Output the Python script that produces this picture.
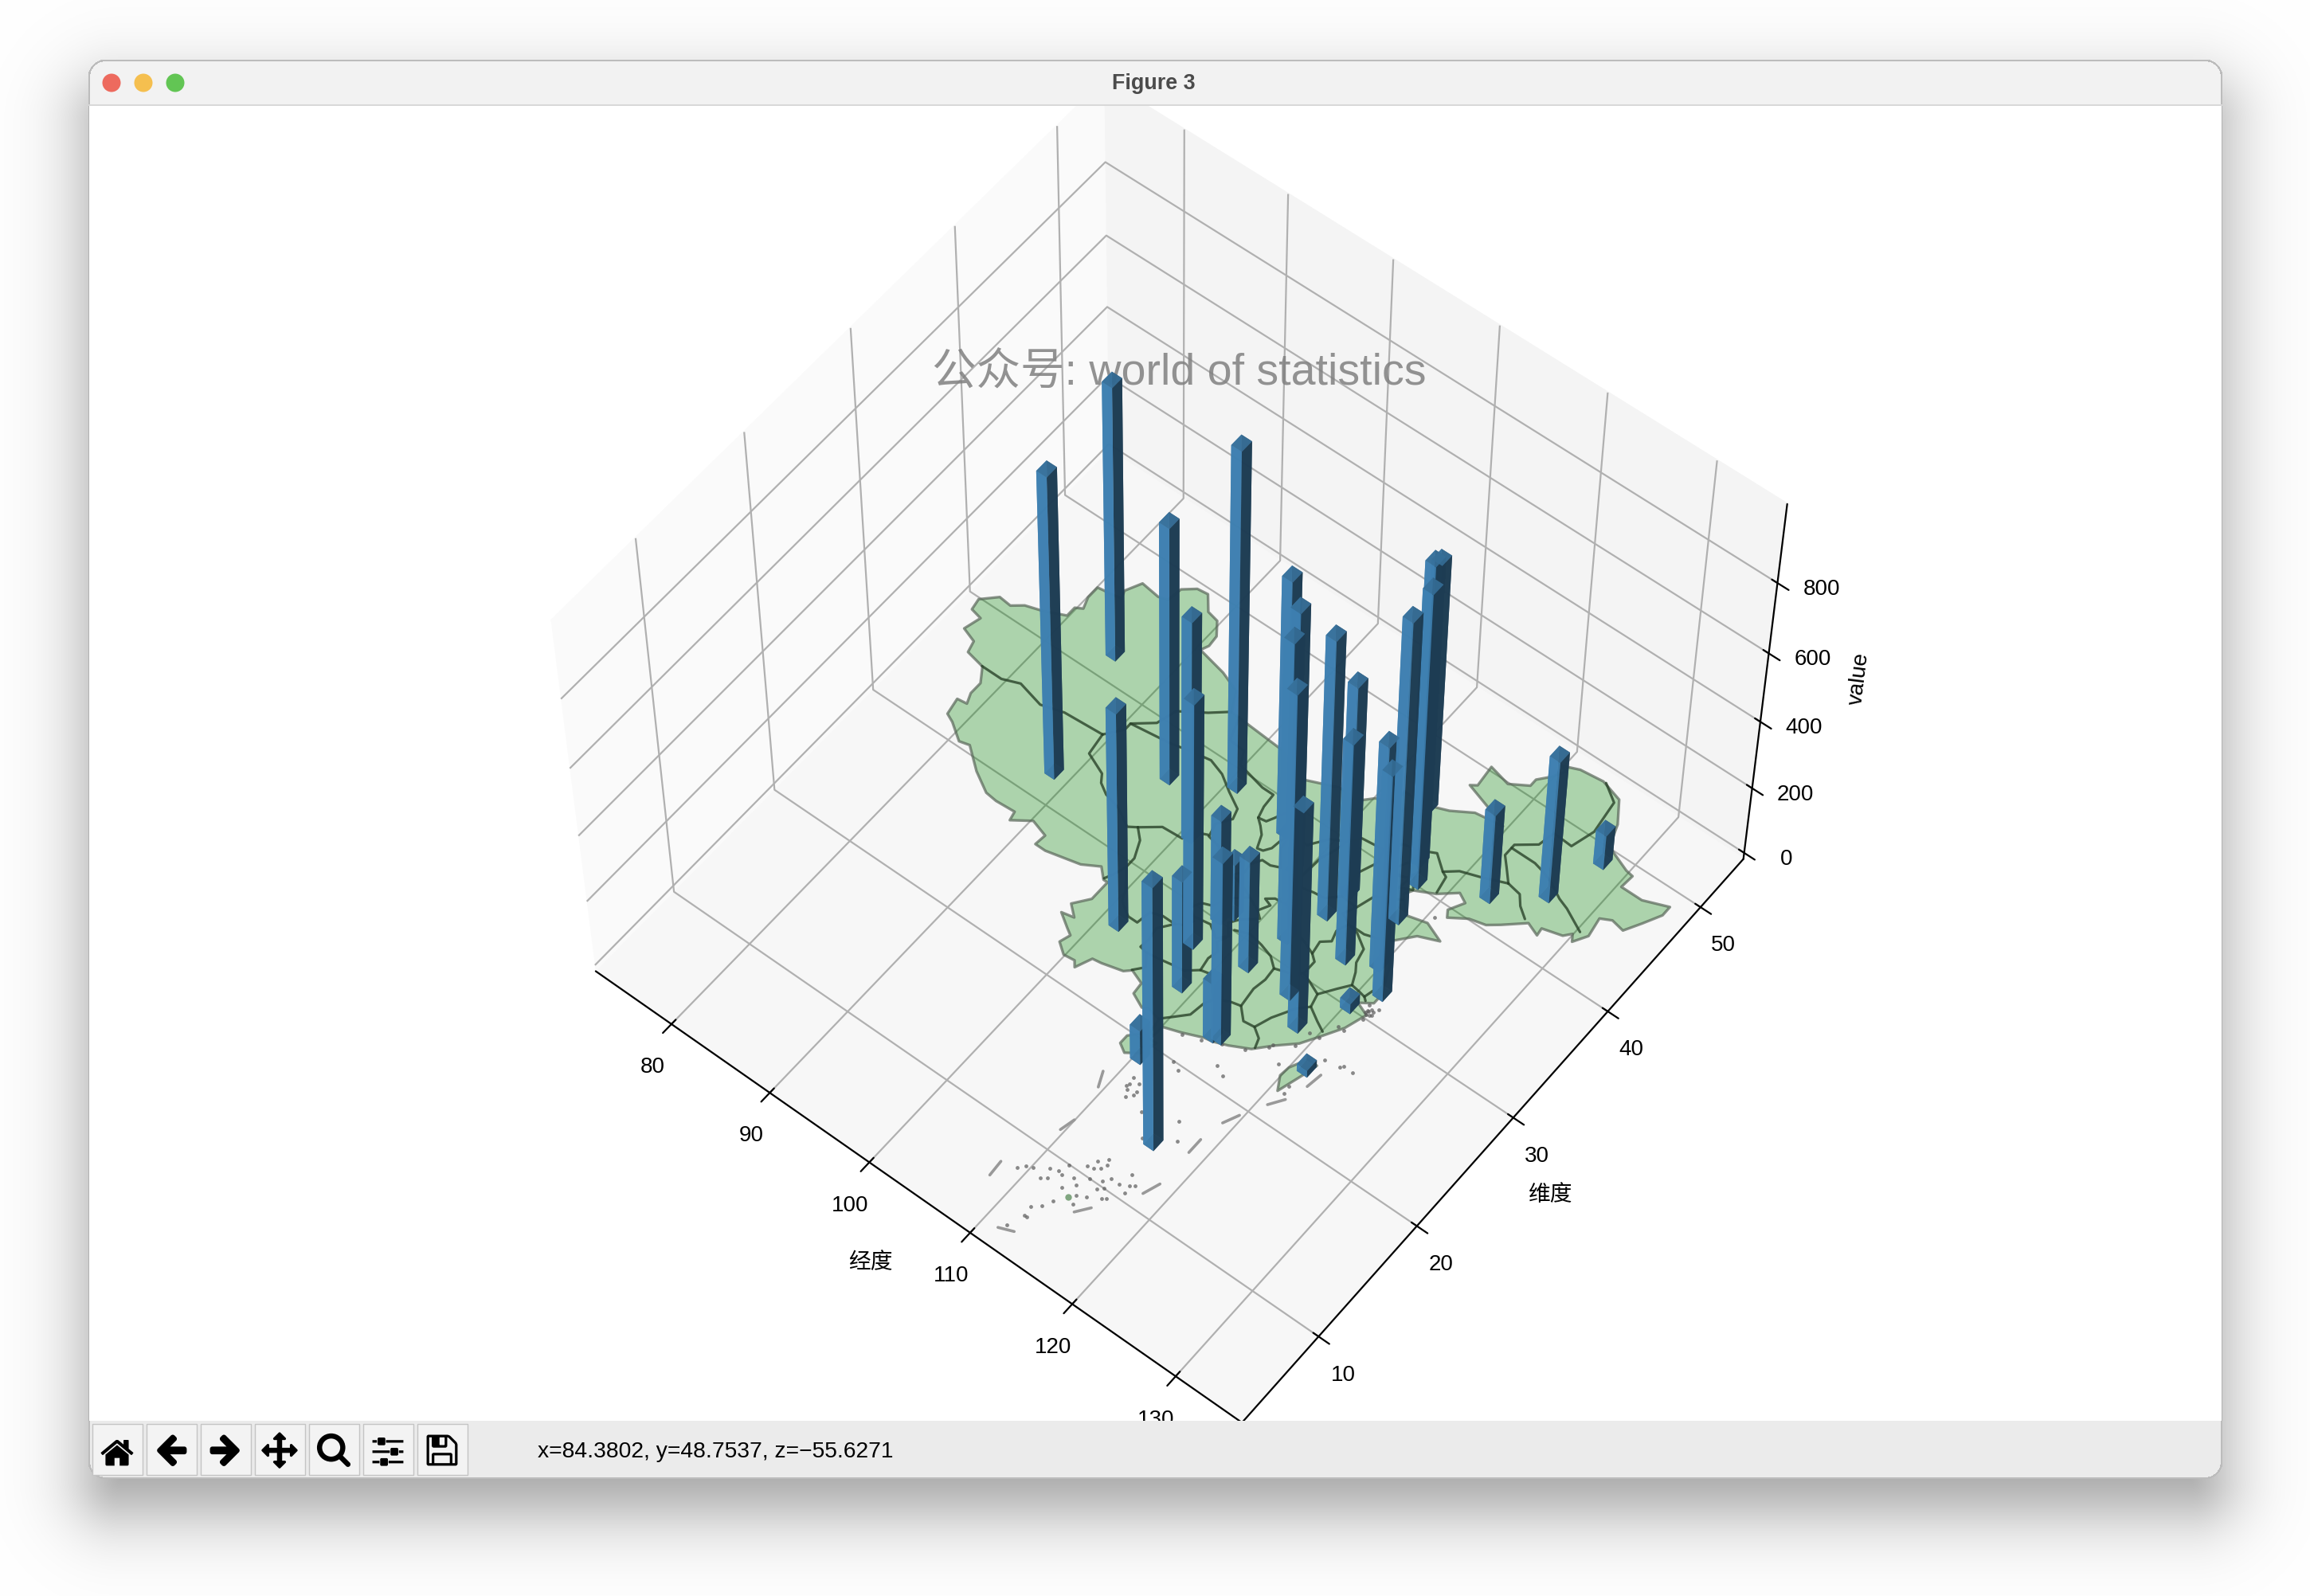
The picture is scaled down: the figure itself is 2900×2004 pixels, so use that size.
import os, numpy as np, matplotlib
matplotlib.use("Agg")
import matplotlib as mpl, matplotlib.pyplot as plt, seaborn as sns
from matplotlib.patches import Rectangle, Circle
from mpl_toolkits.mplot3d.art3d import Poly3DCollection

china_outline=[(73.6,39.5),(74.8,40.5),(76.0,40.4),(76.9,41.0),(78.4,41.4),(80.2,42.1),(80.2,42.9),(80.8,43.2),(80.4,44.1),(80.4,45.1),(82.0,45.3),(82.6,45.4),(82.3,46.0),(83.0,47.2),(84.8,47.0),(85.6,47.2),(85.8,48.4),(86.8,49.1),(87.8,49.2),(88.9,48.1),(90.0,47.9),(90.9,46.9),(91.0,46.0),(90.7,45.4),(93.5,44.9),(95.4,44.3),(96.4,42.8),(100.0,42.6),(101.8,42.5),(103.7,41.9),(105.0,41.6),(107.5,42.5),(109.5,42.5),(110.4,43.3),(111.9,43.7),(111.8,44.9),(113.6,44.8),(115.7,45.5),(117.4,46.4),(119.9,46.7),(118.9,47.0),(115.5,47.9),(116.0,48.2),(115.8,49.9),(117.8,49.5),(119.3,50.3),(119.3,50.9),(120.1,51.7),(120.7,52.6),(120.1,52.8),(121.5,53.3),(123.6,53.5),(125.6,53.0),(126.9,51.4),(127.5,50.0),(127.6,49.7),(130.0,48.9),(130.7,48.8),(130.6,47.7),(132.6,47.7),(134.7,48.4),(134.7,47.6),(133.9,46.3),(133.1,45.1),(131.9,45.3),(131.0,44.9),(131.3,43.4),(130.6,42.4),(130.2,42.9),(129.7,42.4),(128.0,42.0),(128.1,41.4),(126.9,41.8),(125.3,40.6),(124.4,40.0),(123.0,39.7),(121.6,38.9),(121.2,39.4),(121.9,40.5),(121.0,40.9),(119.6,39.9),(118.0,39.2),(117.6,38.6),(118.9,37.4),(120.7,37.8),(122.5,37.2),(120.8,36.6),(119.3,35.1),(120.7,33.9),(121.9,31.7),(121.9,30.9),(120.9,30.3),(122.1,29.9),(121.5,28.3),(120.6,27.0),(119.6,25.6),(118.2,24.5),(117.0,23.4),(115.4,22.7),(114.2,22.3),(113.5,22.2),(111.8,21.6),(110.4,21.2),(110.3,20.3),(109.9,20.4),(109.7,21.5),(108.5,21.7),(108.0,21.5),(106.7,22.0),(106.6,22.9),(105.3,23.3),(104.8,22.9),(103.0,22.5),(102.2,22.4),(101.6,21.2),(101.2,21.6),(100.2,21.5),(99.2,22.1),(99.5,22.9),(98.9,23.2),(97.6,23.9),(98.7,24.1),(97.7,24.8),(98.7,25.9),(98.7,27.5),(98.3,27.5),(97.4,28.2),(96.0,27.5),(93.0,26.9),(92.0,26.9),(92.1,27.8),(90.5,28.2),(89.0,27.3),(88.8,28.0),(87.0,27.9),(85.9,28.0),(84.0,28.9),(82.0,30.2),(81.1,30.0),(79.5,30.9),(78.7,31.2),(78.4,32.5),(79.3,32.6),(78.9,33.4),(78.9,34.4),(78.0,35.5),(76.2,35.8),(75.9,36.7),(74.5,37.1),(74.9,38.4),(73.8,38.6)]
hainan_outline=[(108.7,19.3),(109.5,20.0),(110.9,20.0),(110.5,18.8),(109.5,18.2),(108.7,18.6)]
taiwan_outline=[(121.0,25.0),(121.9,25.0),(121.6,24.0),(120.9,22.0),(120.2,23.0),(120.3,23.8)]
province_borders=[
[(78.0,35.5),(80.0,35.5),(81.5,36.0),(84.0,35.5),(86.0,36.0),(89.7,36.2)],
[(89.7,36.2),(90.8,37.4),(90.8,38.0),(92.4,39.1),(92.9,40.6),(95.0,41.8),(96.4,42.8)],
[(89.7,36.2),(90.0,34.5),(92.0,33.8),(92.5,33.2),(93.5,32.7),(95.0,32.4),(96.7,31.6),(97.4,32.0)],
[(97.4,32.0),(98.3,31.3),(99.0,30.0),(99.0,29.2),(98.7,28.3),(98.3,27.6)],
[(90.8,38.0),(94.5,38.4),(96.0,38.7),(98.0,39.0),(99.5,38.6),(101.0,37.8),(102.5,37.1),(102.8,36.3),(102.0,35.3),(102.3,34.4),(101.0,33.9),(100.8,33.1),(98.9,33.0),(97.4,32.0)],
[(102.3,34.3),(103.5,34.1),(104.4,33.3),(105.5,32.8),(106.0,32.9)],
[(97.2,42.8),(98.0,41.0),(99.5,40.9),(100.1,39.9),(102.8,39.4),(103.9,39.4),(104.0,38.3),(104.3,37.4)],
[(104.3,37.4),(105.0,37.5),(105.3,38.0),(106.0,39.3),(106.7,39.4),(106.9,38.5),(106.5,38.0),(107.3,37.6),(107.0,36.8),(106.9,36.1),(106.5,35.6),(106.0,35.5),(105.5,36.5),(104.9,37.0),(104.3,37.4)],
[(106.0,32.9),(106.6,33.6),(106.5,34.3),(107.0,35.0),(107.8,35.0),(108.6,35.3),(107.5,36.4),(107.3,37.6),(108.0,37.7),(108.9,37.7),(110.0,39.0),(111.2,39.5)],
[(111.2,39.5),(110.9,38.4),(110.5,37.5),(110.4,36.0),(110.3,35.0),(110.4,34.6),(110.9,33.8),(111.0,33.3),(110.0,33.2),(109.4,32.8),(110.1,32.6),(109.6,31.8),(108.3,32.3),(107.2,32.7),(106.0,32.9)],
[(111.2,39.5),(111.9,40.3),(113.0,40.4),(113.9,40.5),(114.3,39.5),(113.6,38.0),(113.7,37.0),(113.5,36.6),(114.0,36.0),(113.0,35.2),(112.0,35.1),(111.0,34.9),(110.4,34.6)],
[(108.3,32.2),(107.0,31.3),(106.6,30.3),(105.7,30.0),(105.3,29.3),(106.0,28.9),(107.5,29.1),(108.6,28.5),(109.3,29.1),(108.5,29.9),(109.0,30.5),(110.2,31.4),(109.6,31.8)],
[(105.3,27.7),(105.9,28.0),(106.3,28.6),(106.0,28.9)],
[(99.0,29.2),(100.3,27.8),(100.7,27.0),(101.4,26.6),(102.0,26.3),(102.9,26.3),(103.1,27.4),(104.1,27.7),(105.3,27.7),(104.4,26.7),(104.6,25.8),(104.5,25.0),(105.2,24.9),(106.0,24.0),(105.3,23.3)],
[(105.2,24.9),(106.2,25.0),(107.5,25.2),(108.5,25.3),(109.5,26.0),(109.3,27.0),(109.5,27.8),(108.9,28.3),(109.3,29.1)],
[(109.3,29.7),(110.5,30.1),(111.8,29.9),(113.0,29.6),(113.9,29.0),(114.0,28.0),(113.8,27.0),(114.0,25.5),(113.0,25.3),(112.0,24.8),(111.4,25.2),(110.5,26.2),(109.5,26.0)],
[(112.0,24.8),(111.6,24.2),(111.4,23.0),(110.5,22.2),(109.7,21.5)],
[(114.0,25.5),(115.0,24.7),(116.0,24.8),(116.9,24.3),(117.2,23.6)],
[(116.0,24.8),(116.5,26.0),(117.5,27.5),(118.3,28.2),(119.5,27.6),(120.4,27.2)],
[(118.3,28.2),(118.0,29.2),(116.9,29.6),(116.0,29.9),(115.3,29.4),(113.9,29.0)],
[(116.0,29.9),(116.0,31.0),(115.4,31.4),(114.2,31.8),(113.8,31.9),(112.9,32.4),(111.6,33.0),(111.0,33.3)],
[(115.4,31.4),(115.2,32.4),(115.9,32.9),(115.6,33.7),(116.0,34.6),(117.0,34.4),(118.3,33.7),(118.6,32.6),(119.1,32.0),(119.6,31.1),(118.9,30.3),(118.0,29.2)],
[(116.0,34.6),(115.0,35.0),(115.5,35.9),(114.0,36.0)],
[(115.5,35.9),(116.0,37.3),(117.5,38.0),(117.9,38.2)],
[(116.4,34.6),(117.5,34.6),(119.3,35.1)],
[(119.6,31.1),(120.4,31.0),(121.0,30.9),(121.3,30.7)],
[(121.0,30.9),(121.2,31.6)],
[(113.9,40.5),(114.8,41.6),(116.0,41.8),(117.4,42.4),(118.8,41.5),(119.8,42.2),(121.5,42.7),(123.5,43.4)],
[(118.8,41.5),(119.3,41.3),(119.6,40.0)],
[(123.5,43.4),(124.8,43.2),(125.5,42.5),(126.5,41.9)],
[(123.5,43.4),(122.5,44.3),(121.7,45.0),(121.7,46.0),(123.2,47.0),(123.5,48.3),(125.3,48.2),(125.9,50.0),(125.5,52.6),(123.9,53.5)],
[(121.7,45.7),(124.0,45.7),(125.0,45.5),(126.0,45.2),(127.5,44.5),(128.5,44.2),(130.6,43.3)],
[(115.5,39.6),(116.1,40.6),(116.7,41.0),(117.4,40.6),(116.9,39.7),(116.3,39.5),(115.5,39.6)],
[(117.2,40.2),(118.0,39.2),(117.0,38.8),(117.2,40.2)],
]
dash_segments=[(122.5,23.4,122.7,24.6),(121.1,20.8,121.9,21.8),(119.4,18.0,120.0,19.1),(119.0,15.0,119.0,16.2),(118.5,10.9,119.0,12.1),(115.4,7.2,116.2,8.1),(111.7,3.4,112.9,3.8),(108.3,6.0,108.2,7.2),(110.0,11.3,110.3,12.4),(109.9,15.2,109.3,16.3)]
island_lon=[111.5,111.5,111.6,112.2,111.8,112.5,112.5,112.1,114.6,114.0,114.8,113.6,114.2,114.6,112.5,111.5,112.2,112.6,111.5,111.9,113.3,114.0,113.5,114.5,115.4,115.8,116.6,117.3,116.8,117.6,115.9,115.5,117.4,116.6,116.3,115.3,114.6,114.9,113.5,113.1,112.5,112.6,112.8,112.1,109.5,110.0,110.5,113.9,116.7,117.7,115.4,119.5,115.9,116.8,113.8,113.0,121.5,121.4,122.1,123.4,123.6,124.5,122.1,122.1,122.4,122.6,121.1,119.7,118.1,112.0,113.5,115.0,116.7,118.0,119.5,120.5,121.6,122.2,122.3,122.0,121.9,122.2,122.5,121.8,120.9]
island_lat=[17.1,16.4,16.6,17.0,16.2,16.4,16.1,15.7,11.5,11.0,11.1,10.3,10.4,10.7,9.6,8.7,8.9,8.8,7.8,8.1,8.1,8.8,9.1,9.7,10.0,10.5,10.5,10.8,11.5,11.0,9.7,9.4,10.2,9.2,9.0,8.5,8.2,7.6,7.0,6.3,5.8,5.1,5.1,3.9,7.5,7.9,8.1,15.5,16.4,15.2,14.0,23.6,21.1,20.7,19.3,19.6,22.1,22.7,25.6,25.8,26.0,26.0,29.9,30.2,30.3,30.7,28.1,26.6,24.5,21.5,21.9,22.5,23.1,24.2,25.3,26.7,28.1,29.5,30.0,30.2,30.0,30.4,30.1,30.6,38.4]
blob_lon=[114.2]; blob_lat=[7.8]
bar_lon=[88.4,85.1,95.9,100.6,106.3,108.9,112.4,115.7,100.7,106.9,113.5,113.7,117.1,119.6,121.4,118.1,116.2,113.7,117.3,122.5,126.1,127.6,101.3,107.2,113.4,107.8,114.0,111.6,108.7,118.0,115.8,110.2,121.0,120.1]
bar_lat=[31.5,41.2,35.8,38.0,37.2,35.3,30.9,27.7,33.1,26.9,33.9,36.1,32.0,32.9,31.3,36.5,40.8,44.4,39.4,41.4,43.8,48.0,25.0,29.4,22.2,30.2,22.4,27.7,23.9,26.1,13.7,18.1,23.9,29.3]
bar_val=[883,793,756,993,762,780,895,914,661,736,833,637,667,681,685,896,888,738,873,272,430,104,657,321,184,173,560,342,345,674,808,107,22,31]
x_ticks=[80,90,100,110,120,130]; y_ticks=[10,20,30,40,50]; z_ticks=[0,200,400,600,800]
elev,azim=56.338,-51.596
xlim=(72.209,136.344); ylim=(2.343,54.688); zlim=(-19.216,1017.786)
s,cx,cy=1652.962,1449.659,957.82

W,H=2900,2004
sns.set_theme(style="ticks",rc={"text.color":"black","axes.labelcolor":"black","xtick.color":"black","ytick.color":"black","axes.edgecolor":"black","grid.color":"#b0b0b0","grid.linewidth":0.8,"axes.linewidth":0.8,"font.size":10,"axes.labelsize":10,"xtick.labelsize":10,"ytick.labelsize":10,"xtick.major.size":3.5,"xtick.major.width":0.8,"ytick.major.width":0.8,"patch.force_edgecolor":False})
plt.rcParams['font.family']=['Liberation Sans','Noto Sans CJK SC','DejaVu Sans']
fig=plt.figure(figsize=(W/200,H/200),dpi=200,facecolor='white')
ax=fig.add_subplot(projection='3d',computed_zorder=False)
ax.set_box_aspect((4,4,3)); ax.patch.set_alpha(0)
ax.view_init(elev,azim)
ax.set_position([(cx-s/2)/W,1-(cy+s/2)/H,s/W,s/H])
bar_color=sns.desaturate('#4691c8',1)
ax.bar3d(bar_lon,bar_lat,np.zeros(len(bar_val)),1,1,bar_val,color=bar_color,alpha=.87,linewidth=0,edgecolor='none',zorder=5)
for poly in [china_outline,hainan_outline,taiwan_outline]:
    ax.add_collection3d(Poly3DCollection([[(a,b,0) for a,b in poly]],facecolor=(0,.5,0,.3),edgecolor=(.35,.4,.35,.7),linewidth=1.2,zorder=1))
for l in province_borders:
    ax.plot([a for a,b in l],[b for a,b in l],0,color=(.16,.26,.16),alpha=.8,lw=1.15,zorder=2)
for a,b,c,d in dash_segments:
    ax.plot([a,c],[b,d],0,color=(.6,.6,.6),lw=1.3,zorder=2)
ax.scatter(island_lon,island_lat,0,s=3,c=[(.35,.35,.35)],alpha=.7,linewidths=0,depthshade=False,zorder=2)
ax.scatter(blob_lon,blob_lat,0,s=9,c=[(.5,.65,.5)],linewidths=0,depthshade=False,zorder=2)
ax.xaxis.set_pane_color((.98,.98,.98,1));ax.yaxis.set_pane_color((.955,.955,.955,1));ax.zaxis.set_pane_color((.968,.968,.968,1))
ax.set_xticks(x_ticks);ax.set_yticks(y_ticks);ax.set_zticks(z_ticks)
ax.set_xlabel('经度');ax.set_ylabel('维度');ax.set_zlabel('value')
ax.set_xlim(*xlim,view_margin=0);ax.set_ylim(*ylim,view_margin=0);ax.set_zlim(*zlim,view_margin=0)
ax.text2D(1480/W,1-469/H,'公众号: world of statistics',transform=fig.transFigure,ha='center',va='center',fontsize=20,color='#808080',alpha=.85,zorder=3)

# window chrome
yy,xx=np.mgrid[0:H,0:W]+.5
def rr(x0,y0,x1,y1,r):
    qx=np.abs(xx-(x0+x1)/2)-(x1-x0)/2+r; qy=np.abs(yy-(y0+y1)/2)-(y1-y0)/2+r
    return np.hypot(np.maximum(qx,0),np.maximum(qy,0))+np.minimum(np.maximum(qx,qy),0)-r
win=rr(111,75,2790,1857,22); sh=rr(111,115,2790,1897,40)
shadow=1-.38*.5*(1-np.tanh(sh/55))
cov=np.clip(.5-win,0,1)
top=yy<133; bot=yy>=1784
band=np.where(top,.951,.925)
grey=cov*band+(1-cov)*shadow
grey=np.where((win>-2)&(win<.5)&(top|bot),.74,grey)
grey=np.where((yy>=131)&(yy<133)&(win<0),.85,grey)
alpha=np.where((win<-1)&~top&~bot,0.,1.)
grey=np.where((win>=-2)&(win<.5)&~top&~bot,.7,grey)
img=np.dstack([grey,grey,grey,alpha])
ov=fig.add_axes([0,0,1,1],zorder=10); ov.axis('off'); ov.patch.set_alpha(0)
ov.imshow(img,extent=(0,W,H,0),interpolation='nearest',aspect='auto',zorder=0)
for c_,col in zip([140,180,220],['#ed6a5e','#f5bf4f','#62c554']):
    ov.add_patch(Circle((c_,104),11.5,fc=col,ec='none',zorder=2))
ov.text(1448,104.5,'Figure 3',ha='center',va='center',fontsize=9.7,fontweight='bold',color='#4b4b4b')
icons=['home','back','forward','move','zoom_to_rect','subplots','filesave']
for i,n in enumerate(icons):
    x0=116+68*i
    ov.add_patch(Rectangle((x0,1788),63,64,fc='#f3f3f3',ec='#c4c4c4',lw=.5,zorder=1))
    im=plt.imread(os.path.join(mpl.get_data_path(),'images',n+'_large.png'))
    ov.imshow(im,extent=(x0+7.5,x0+55.5,1844,1796),aspect='auto',zorder=3,interpolation='bilinear')
ov.text(675,1823.5,'x=84.3802, y=48.7537, z=\u221255.6271',ha='left',va='center',fontsize=10.2,color='black')
ov.set_xlim(0,W);ov.set_ylim(H,0)
fig.savefig('out.png',dpi=200)
